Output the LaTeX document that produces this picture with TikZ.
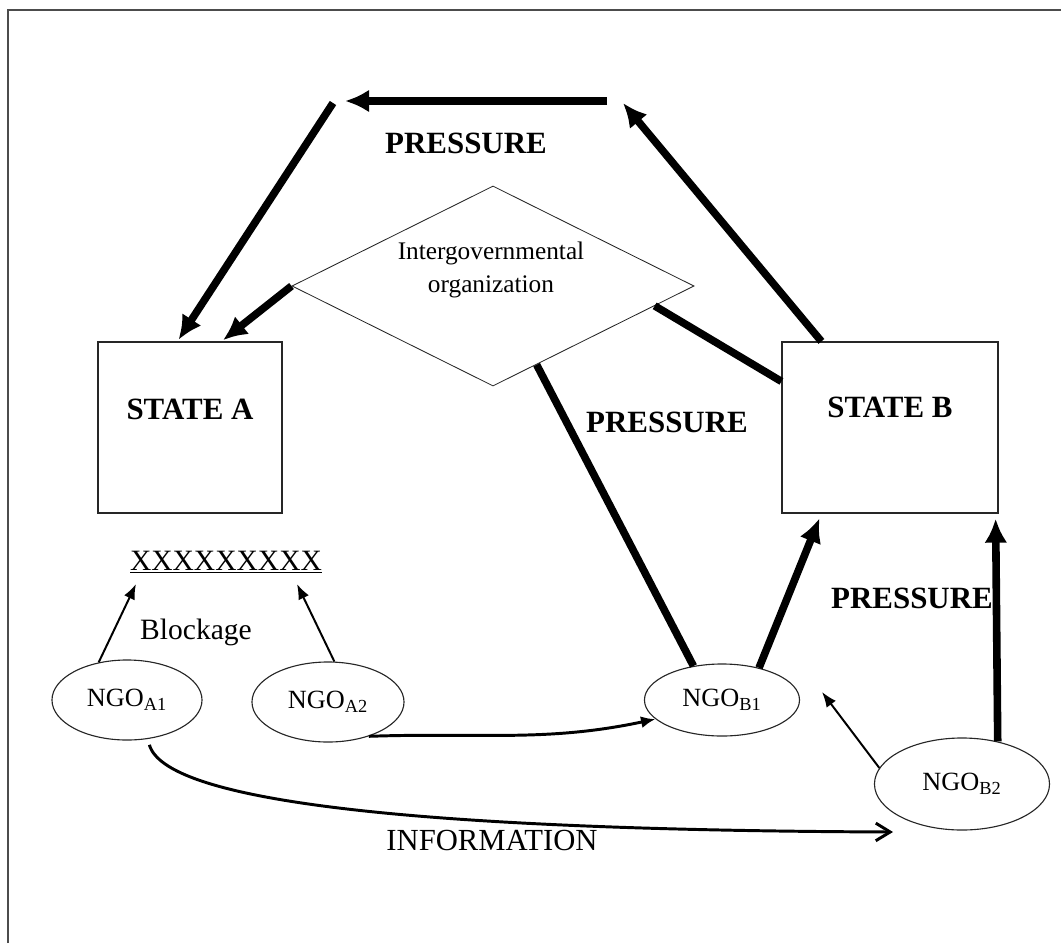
\documentclass[tikz,border=0pt]{standalone}
\usepackage{fontspec}
\setmainfont{Liberation Serif}
\usetikzlibrary{arrows.meta,shapes.geometric}
\begin{document}
\begin{tikzpicture}[x=0.025cm,y=-0.025cm,
  box/.style={draw=black!85, line width=0.8pt, inner sep=0pt},
  ell/.style={ellipse, draw=black!85, line width=0.8pt, inner sep=0pt, font=\fontsize{18.7}{22}\selectfont},
  lbl/.style={font=\bfseries\fontsize{22}{26}\selectfont},
  txt/.style={font=\fontsize{21}{25}\selectfont},
  heavy/.style={line width=5.4pt},
  heavyarrow/.style={line width=5.4pt, -{Latex[length=6mm,width=5.7mm]}},
  thinarrow/.style={line width=1.4pt, -{Latex[length=3.8mm,width=2.9mm]}},
  midarrow/.style={line width=2.1pt, -{Latex[length=3.6mm,width=3mm]}},
  openarrow/.style={line width=2.1pt, -{Straight Barb[length=3.6mm,width=4.4mm]}}]
\useasboundingbox (0,0) rectangle (1061,943);
% frame (cropped page border)
\draw[line width=1pt, black!70] (8,943) -- (8,10) -- (1061,10);

% states
\node[box, minimum width=4.6cm, minimum height=4.275cm] (sa) at (190,427.5) {};
\node[lbl] (saT) at (190,409) {STATE A};
\node[box, minimum width=5.4cm, minimum height=4.275cm] (sb) at (890,427.5) {};
\node[lbl] (sbT) at (890,407) {STATE B};

% intergovernmental organization
\node[diamond, draw=black!85, line width=0.6pt, minimum width=10.05cm, minimum height=5cm, inner sep=0pt] (igo) at (493,286) {};
\node[font=\fontsize{18}{24}\selectfont, align=center] (igoT) at (491,270) {Intergovernmental\\organization};

% labels
\node[lbl] (p1) at (466,143) {PRESSURE};
\node[lbl] (p2) at (667,422) {PRESSURE};
\node[lbl] (p3) at (912,598) {PRESSURE};
\node[txt] (xx) at (226,562) {\underline{XXXXXXXXX}};
\node[txt] (blk) at (196,632) {Blockage};
\node[font=\fontsize{21.8}{26}\selectfont] (info) at (492,840) {INFORMATION};

% NGOs
\node[ell, minimum width=3.75cm, minimum height=2cm] (na1) at (127,700) {NGO\textsubscript{A1}};
\node[ell, minimum width=3.8cm, minimum height=2cm] (na2) at (328,702) {NGO\textsubscript{A2}};
\node[ell, minimum width=3.875cm, minimum height=1.8cm] (nb1) at (722,700) {NGO\textsubscript{B1}};
\node[ell, minimum width=4.375cm, minimum height=2.3cm] (nb2) at (962,784) {NGO\textsubscript{B2}};

% free ends
\coordinate (c1) at (607,101);
\coordinate (c2) at (345,101);
\coordinate (c3) at (333,103);
\coordinate (c4) at (623,103);
\coordinate (b1) at (136,584);
\coordinate (b2) at (297,584);
\coordinate (t9) at (822,692);
\coordinate (t11) at (893,832);

% pressure cycle at the top
\draw[heavyarrow] (c1) -- (c2);
\draw[heavyarrow, shorten >=1.4pt] (c3) -- ([xshift=2cm]sa.north west);
\draw[heavyarrow, shorten >=1.4pt] (igo.west) -- ([xshift=3.1cm]sa.north west);
\draw[heavyarrow] ([xshift=1cm]sb.north west) -- (c4);
\draw[heavy] (igo.-7) -- (sb.157.6);
\draw[heavy] (igo.-61) -- (nb1.130);

% pressure from NGOs of B
\draw[heavyarrow, shorten >=3.6pt] (nb1.41) -- ([xshift=1cm]sb.south west);
\draw[heavyarrow, shorten >=3.6pt] (nb2.50) -- ([xshift=-0.075cm]sb.south east);
\draw[thinarrow] (nb2.169) -- (t9);

% blockage
\draw[thinarrow] (na1.127) -- (b1);
\draw[thinarrow] (na2.81) -- (b2);

% NGO links
\draw[midarrow] (na2.-40) to[out=2,in=192] (nb1.196);
\draw[openarrow, shorten <=4.3pt] (na1.-62) .. controls (165,800) and (400,830) .. (t11);
\end{tikzpicture}
\end{document}
